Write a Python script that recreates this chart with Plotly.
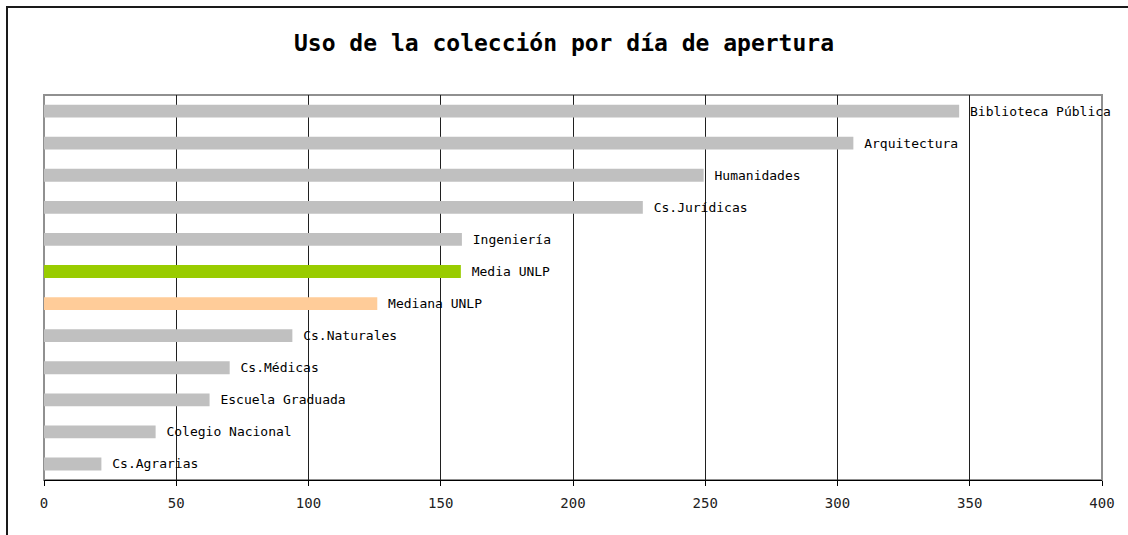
import plotly.graph_objects as go

categories = ["Cs.Agrarias", "Colegio Nacional", "Escuela Graduada", "Cs.Médicas",
              "Cs.Naturales", "Mediana UNLP", "Media UNLP", "Ingeniería",
              "Cs.Jurídicas", "Humanidades", "Arquitectura", "Biblioteca Pública"]
values = [21.7, 42.2, 62.6, 70.2, 93.9, 126.0, 157.6, 158.0, 226.4, 249.4, 306.0, 346.0]
bar_colors = ["#C0C0C0"] * 5 + ["#FFCC99", "#99CC00"] + ["#C0C0C0"] * 5
x_ticks = [0, 50, 100, 150, 200, 250, 300, 350, 400]

FONT = "DejaVu Sans Mono"

fig = go.Figure()
fig.add_trace(go.Bar(
    y=categories, x=values, orientation="h",
    marker=dict(color=bar_colors, line=dict(width=0)),
    text=[" " + c for c in categories], textposition="outside",
    textfont=dict(family=FONT, size=13, color="#000000"),
    constraintext="none", cliponaxis=False,
    hoverinfo="x+y",
))

fig.update_layout(
    width=1128, height=535,
    margin=dict(l=44, r=26, t=95, b=55),
    paper_bgcolor="white", plot_bgcolor="white",
    bargap=0.6, showlegend=False,
    title=dict(text="<b>Uso de la colección por día de apertura</b>",
               x=0.5, xref="container", xanchor="center",
               y=1 - 43 / 535, yanchor="middle",
               font=dict(family=FONT, size=23, color="#000000")),
    xaxis=dict(range=[0, 400], tickvals=x_ticks, ticktext=[str(v) for v in x_ticks],
               showgrid=True, gridcolor="#202020", gridwidth=1,
               showline=True, linecolor="#000000", linewidth=1,
               ticks="outside", ticklen=5, tickcolor="#000000",
               ticklabelstandoff=5, zeroline=False,
               tickfont=dict(family=FONT, size=14, color="#222222")),
    yaxis=dict(showticklabels=False, showgrid=False, zeroline=False,
               showline=False, categoryorder="array", categoryarray=categories),
    shapes=[
        # plot area frame (grey)
        dict(type="rect", xref="paper", yref="paper", x0=0, x1=1, y0=0, y1=1,
             line=dict(color="#909090", width=2), layer="below"),
        # outer chart border
        dict(type="rect", xref="paper", yref="paper",
             x0=(7 - 44) / 1058, x1=(1140 - 44) / 1058,
             y0=(480 - 545) / 385, y1=(480 - 7) / 385,
             line=dict(color="#1a1a1a", width=2)),
    ],
)

fig.write_html("out.html", config={"displayModeBar": False},
               post_script="document.body.style.margin='0';")
